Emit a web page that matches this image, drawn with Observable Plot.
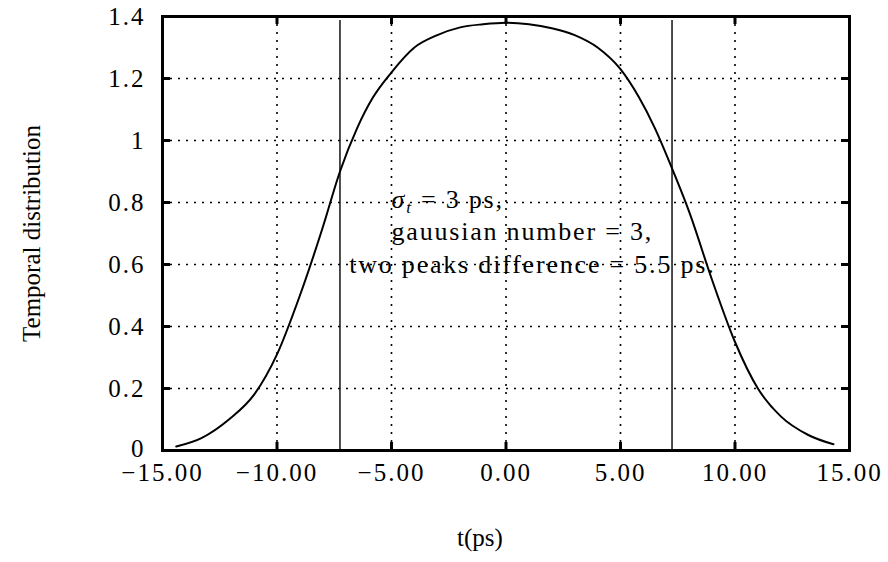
<!DOCTYPE html>
<html><head><meta charset="utf-8">
<script src="https://cdn.jsdelivr.net/npm/d3@7"></script>
<script src="https://cdn.jsdelivr.net/npm/@observablehq/plot@0.6"></script>
<style>
html,body{margin:0;padding:0;background:#fff;}
#chart svg{display:block;}
#chart svg, #chart svg text{font-family:"Liberation Serif","DejaVu Serif",serif !important;}
</style>
</head><body><div id="chart"></div>
<script>
// Curve
const times  = [-14.4, -13.3, -12.1, -11.0, -10.0, -9.0, -8.0, -7.25, -6.5, -5.8, -5.0, -4.0, -3.0, -2.0, -1.0, 0.0, 1.0, 2.0, 3.0, 4.0, 5.0, 5.8, 6.5, 7.25, 8.0, 9.0, 10.0, 11.0, 12.0, 13.2, 14.3];
const values = [0.013, 0.04, 0.10, 0.18, 0.31, 0.50, 0.72, 0.90, 1.04, 1.14, 1.22, 1.30, 1.34, 1.365, 1.375, 1.38, 1.375, 1.362, 1.34, 1.30, 1.23, 1.14, 1.04, 0.91, 0.77, 0.55, 0.35, 0.20, 0.11, 0.05, 0.02];

const markerTimes = [-7.25, 7.25];

const xTicks = [-15, -10, -5, 0, 5, 10, 15];
const xTickLabels = ["−15.00", "−10.00", "−5.00", "0.00", "5.00", "10.00", "15.00"];
const yTicks = [0, 0.2, 0.4, 0.6, 0.8, 1.0, 1.2, 1.4];
const yTickLabels = ["0", "0.2", "0.4", "0.6", "0.8", "1", "1.2", "1.4"];

const noteLines = ["σt = 3 ps,", "gauusian number = 3,", "two peaks difference = 5.5 ps."];
const noteT = [-5.0, -5.0, -6.85];
const noteV = [0.81, 0.706, 0.60];

const xLabel = "t(ps)";
const yLabel = "Temporal distribution";

const curve = times.map((t, i) => ({t, v: values[i]}));
const notes = noteLines.map((text, i) => ({text, t: noteT[i], v: noteV[i]}));
const innerX = xTicks.slice(1, -1);
const innerY = yTicks.slice(1, -1);
const xFmt = new Map(xTicks.map((d, i) => [d, xTickLabels[i]]));
const yFmt = new Map(yTicks.map((d, i) => [d, yTickLabels[i]]));

const W = 888, H = 562, ML = 162, MR = 39, MT = 16, MB = 112;
const FW = W - ML - MR, FH = H - MT - MB, TL = 8;

const chart = Plot.plot({
  width: W, height: H,
  marginLeft: ML, marginRight: MR, marginTop: MT, marginBottom: MB,
  style: {fontFamily: "Liberation Serif, DejaVu Serif, serif", fontSize: "25px", background: "#fff", color: "#000", overflow: "visible"},
  x: {domain: [-15, 15]},
  y: {domain: [0, 1.4]},
  marks: [
    Plot.gridX(innerX, {stroke: "#000", strokeOpacity: 1, strokeWidth: 1.6, strokeDasharray: "2,6"}),
    Plot.gridY(innerY, {stroke: "#000", strokeOpacity: 1, strokeWidth: 1.6, strokeDasharray: "2,6"}),
    Plot.tickX(innerX, {x: d => d, stroke: "#000", strokeWidth: 3, insetTop: FH - TL}),
    Plot.tickX(innerX, {x: d => d, stroke: "#000", strokeWidth: 3, insetBottom: FH - TL}),
    Plot.tickY(innerY, {y: d => d, stroke: "#000", strokeWidth: 3, insetRight: FW - TL}),
    Plot.tickY(innerY, {y: d => d, stroke: "#000", strokeWidth: 3, insetLeft: FW - TL}),
    Plot.ruleX(markerTimes, {stroke: "#000", strokeWidth: 1.4, insetTop: 4}),
    Plot.line(curve, {x: "t", y: "v", curve: "monotone-x", stroke: "#000", strokeWidth: 2}),
    Plot.text(notes, {x: "t", y: "v", text: "text", textAnchor: "start", fontSize: 26, className: "note"}),
    Plot.frame({stroke: "#000", strokeWidth: 3}),
    Plot.axisX(xTicks, {tickSize: 0, tickPadding: 13, tickFormat: d => xFmt.get(d), label: null, className: "xax"}),
    Plot.axisY(yTicks, {tickSize: 0, tickPadding: 17, tickFormat: d => yFmt.get(d), label: yLabel, labelAnchor: "center", labelOffset: 140, labelArrow: "none", className: "yax"}),
    Plot.text([xLabel], {frameAnchor: "bottom", dy: 95, dx: -26, fontSize: 25})
  ]
});
document.getElementById("chart").appendChild(chart);

// letter spacing to approximate Computer Modern widths
chart.querySelectorAll(".xax text, .yax text").forEach(el => el.setAttribute("letter-spacing", "2"));
chart.querySelectorAll(".yax text[transform*='rotate']").forEach(el => el.setAttribute("letter-spacing", "1"));
chart.querySelectorAll(".note text").forEach(el => el.setAttribute("letter-spacing", "1.8"));
// lift the "0" tick label a little so it sits just above the x tick labels
chart.querySelectorAll(".yax text").forEach(el => {
  if (el.textContent === yTickLabels[0]) el.setAttribute("dy", "-0.05em");
});
// subscript t in sigma_t
chart.querySelectorAll(".note text").forEach(el => {
  if (el.textContent === noteLines[0]) {
    el.textContent = "";
    const ns = "http://www.w3.org/2000/svg";
    const a = document.createElementNS(ns, "tspan"); a.textContent = "σ"; a.setAttribute("font-style", "italic");
    const b = document.createElementNS(ns, "tspan"); b.textContent = "t"; b.setAttribute("font-style", "italic"); b.setAttribute("font-size", "17"); b.setAttribute("dy", "5");
    const c = document.createElementNS(ns, "tspan"); c.textContent = " = 3 ps,"; c.setAttribute("dy", "-5");
    el.append(a, b, c);
  }
});
</script>
</body></html>
